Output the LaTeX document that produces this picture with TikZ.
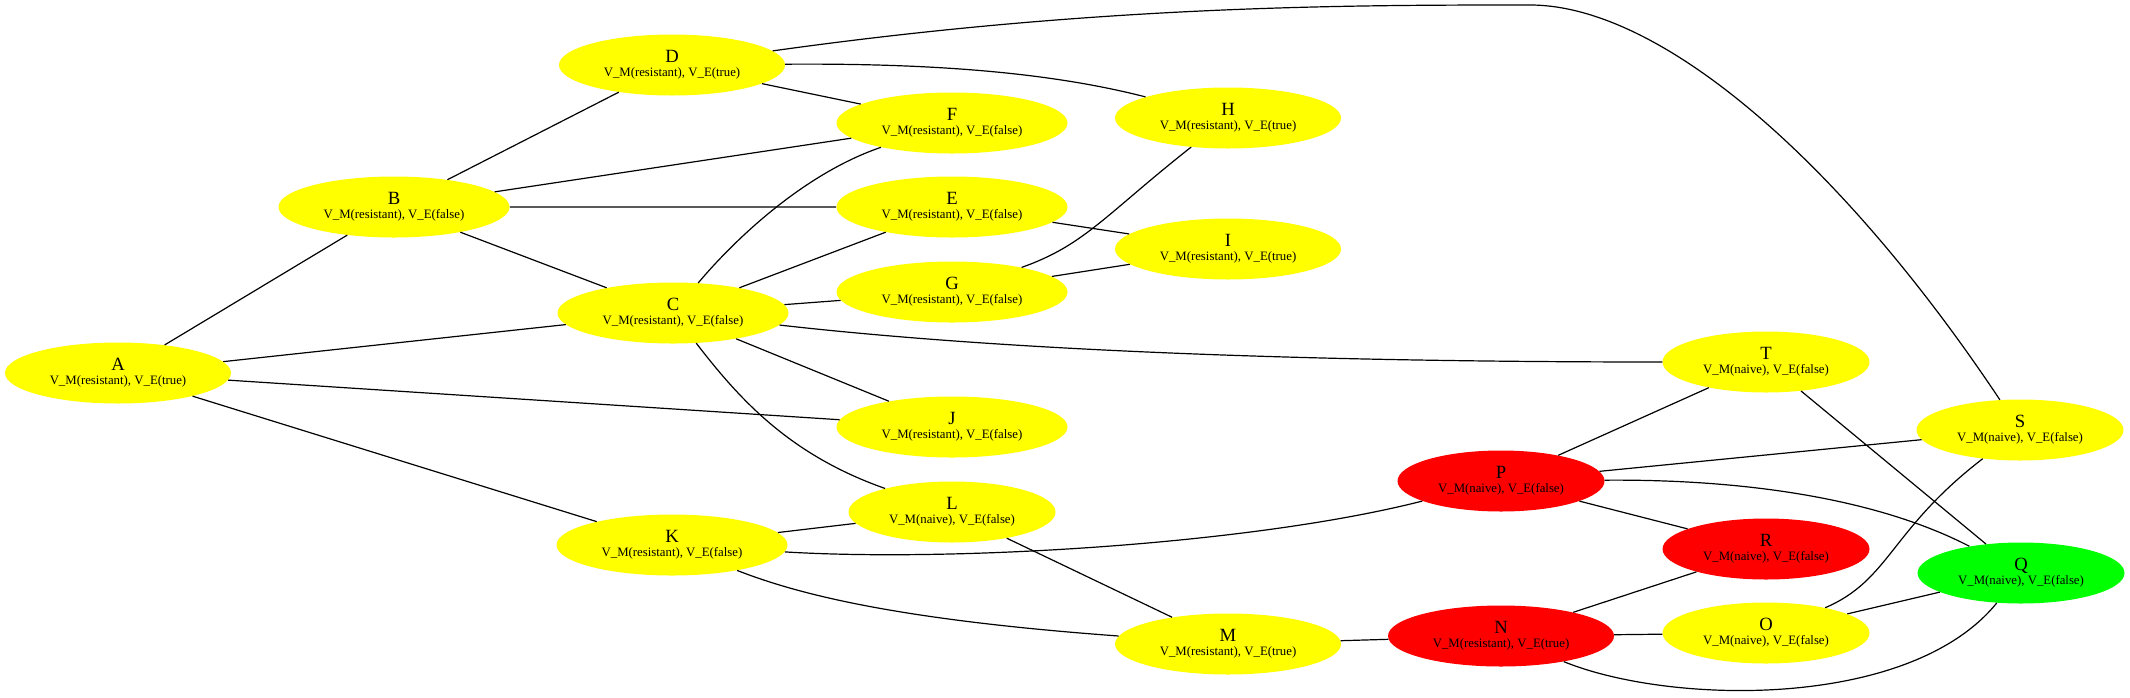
\documentclass[tikz,border=0pt]{standalone}
\usepackage{fontspec}
\setmainfont{Liberation Serif}
\usepackage{tikz}
\usetikzlibrary{shapes.geometric}

\definecolor{stateyellow}{RGB}{255,255,0}
\definecolor{statered}{RGB}{255,0,0}
\definecolor{stategreen}{RGB}{0,255,0}

\newcommand{\statelab}[2]{{\fontsize{14}{15}\selectfont #1}\\{#2}}

\begin{document}
\begin{tikzpicture}[x=0.75pt, y=-0.75pt,
    state/.style={ellipse, inner sep=0pt, minimum height=45.75pt, align=center,
        font=\fontsize{9.6}{10.5}\selectfont},
    rt/.style={state, minimum width=169.5pt},
    rf/.style={state, minimum width=173.25pt},
    nf/.style={state, minimum width=155.25pt},
    link/.style={line width=0.9pt}]
\useasboundingbox (0,0) rectangle (2130,697);

% resistant, true
\node[rt, fill=stateyellow] (A) at (118,373) {\statelab{A}{V\_M(resistant), V\_E(true)}};
\node[rt, fill=stateyellow] (D) at (672,65) {\statelab{D}{V\_M(resistant), V\_E(true)}};
\node[rt, fill=stateyellow] (H) at (1228,118) {\statelab{H}{V\_M(resistant), V\_E(true)}};
\node[rt, fill=stateyellow] (I) at (1228,249) {\statelab{I}{V\_M(resistant), V\_E(true)}};
\node[rt, fill=stateyellow] (M) at (1228,644) {\statelab{M}{V\_M(resistant), V\_E(true)}};
\node[rt, fill=statered] (N) at (1501,636) {\statelab{N}{V\_M(resistant), V\_E(true)}};

% resistant, false
\node[rf, fill=stateyellow] (B) at (394,207) {\statelab{B}{V\_M(resistant), V\_E(false)}};
\node[rf, fill=stateyellow] (C) at (673,313) {\statelab{C}{V\_M(resistant), V\_E(false)}};
\node[rf, fill=stateyellow] (F) at (952,123) {\statelab{F}{V\_M(resistant), V\_E(false)}};
\node[rf, fill=stateyellow] (E) at (952,207) {\statelab{E}{V\_M(resistant), V\_E(false)}};
\node[rf, fill=stateyellow] (G) at (952,292) {\statelab{G}{V\_M(resistant), V\_E(false)}};
\node[rf, fill=stateyellow] (J) at (952,427) {\statelab{J}{V\_M(resistant), V\_E(false)}};
\node[rf, fill=stateyellow] (K) at (672,545) {\statelab{K}{V\_M(resistant), V\_E(false)}};

% naive, false
\node[nf, fill=stateyellow] (L) at (952,512) {\statelab{L}{V\_M(naive), V\_E(false)}};
\node[nf, fill=stateyellow] (T) at (1766,362) {\statelab{T}{V\_M(naive), V\_E(false)}};
\node[nf, fill=stateyellow] (S) at (2020,430) {\statelab{S}{V\_M(naive), V\_E(false)}};
\node[nf, fill=statered] (P) at (1501,481) {\statelab{P}{V\_M(naive), V\_E(false)}};
\node[nf, fill=statered] (R) at (1766,549) {\statelab{R}{V\_M(naive), V\_E(false)}};
\node[nf, fill=stateyellow] (O) at (1766,633) {\statelab{O}{V\_M(naive), V\_E(false)}};
\node[nf, fill=stategreen] (Q) at (2021,573) {\statelab{Q}{V\_M(naive), V\_E(false)}};

% straight links
\draw[link] (A) -- (B) (A) -- (C) (A) -- (J) (A) -- (K);
\draw[link] (B) -- (D) (B) -- (F) (B) -- (E) (B) -- (C);
\draw[link] (D) -- (F);
\draw[link] (C) -- (E) (C) -- (G) (C) -- (J);
\draw[link] (E) -- (I) (G) -- (I);
\draw[link] (K) -- (L) (L) -- (M) (M) -- (N);
\draw[link] (P) -- (T) (P) -- (S) (P) -- (R) (T) -- (Q);
\draw[link] (N) -- (R) (N) -- (O) (O) -- (Q);

% curved links
\coordinate (dtop) at (1530,5);
\draw[link] (D) .. controls (1100,5) and (1350,5) .. (dtop)
    .. controls (1660,5) and (1840,160) .. (S);
\draw[link] (D) .. controls (950,63) and (1060,75) .. (H);
\draw[link] (C) .. controls (730,245) and (800,175) .. (F);
\draw[link] (C) .. controls (1000,350) and (1300,362) .. (T);
\draw[link] (C) .. controls (740,400) and (790,455) .. (L);
\draw[link] (G) .. controls (1085,245) and (1105,215) .. (H);
\draw[link] (K) .. controls (800,595) and (900,620) .. (M);
\draw[link] (K) .. controls (950,562) and (1250,545) .. (P);
\draw[link] (P) .. controls (1750,479) and (1880,500) .. (Q);
\draw[link] (N) .. controls (1670,705) and (1910,710) .. (Q);
\draw[link] (O) .. controls (1890,580) and (1890,530) .. (S);
\end{tikzpicture}
\end{document}
